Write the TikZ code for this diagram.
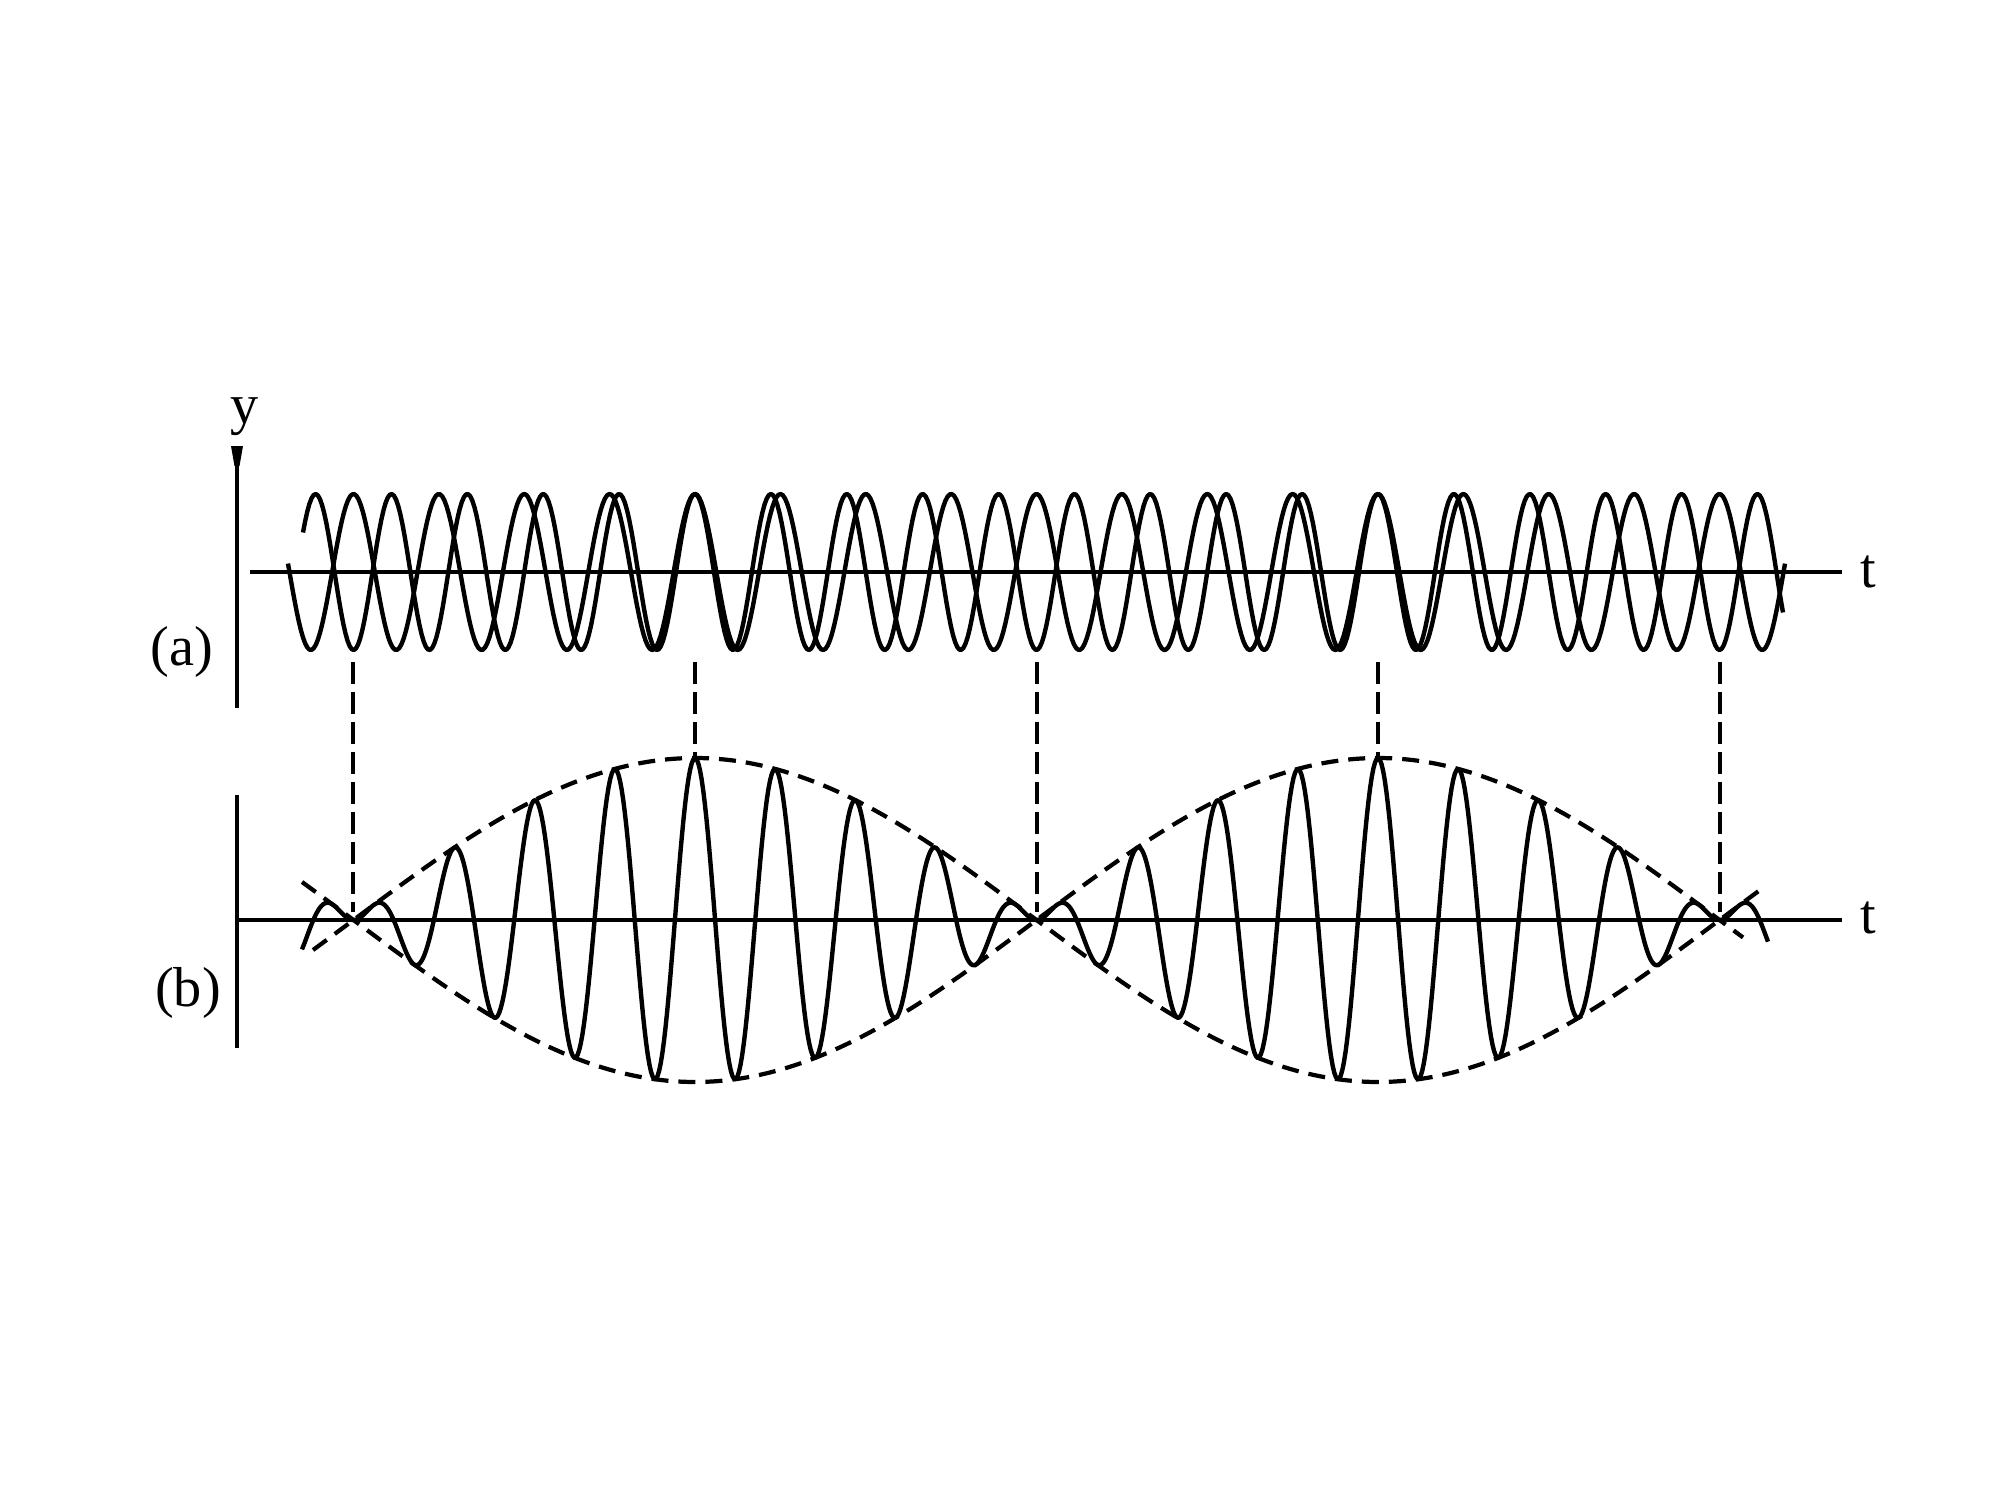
\documentclass[tikz,border=0pt]{standalone}
\usepackage{fontspec}
\setmainfont{Liberation Serif}
\begin{document}
\begin{tikzpicture}[x=0.01cm,y=-0.01cm,
  axis/.style={line width=1.4pt},
  wave/.style={line width=1.25pt, line join=round},
  env/.style={line width=1.2pt, dash pattern=on 0.17cm off 0.1cm},
  guide/.style={line width=1.2pt, dash pattern=on 0.22cm off 0.08cm},
  lab/.style={font=\fontsize{16}{19}\selectfont, inner sep=0pt}]
\useasboundingbox (0,0) rectangle (2000,1500);
% ---------- panel (a) axes
\coordinate (ya0) at (237,708);
\coordinate (ya1) at (237,447);
\draw[axis] (ya0) -- (ya1);
\fill (231,446) -- (243,446) -- (239.5,466) -- (234.5,466) -- cycle;
\coordinate (ta0) at (250,572);
\coordinate (ta1) at (1842,572);
\draw[axis] (ta0) -- (ta1);
\node[lab] (ylab) at (245,417) {y};
\node[lab] (tlaba) at (1868,572) {t};
\node[lab] (alab) at (182,652) {(a)};
% ---------- panel (b) axes
\coordinate (yb0) at (237,1048);
\coordinate (yb1) at (237,795);
\draw[axis] (yb0) -- (yb1);
\coordinate (tb0) at (237,920);
\coordinate (tb1) at (1842,920);
\draw[axis] (tb0) -- (tb1);
\node[lab] (tlabb) at (1868,918) {t};
\node[lab] (blab) at (188,993) {(b)};
% ---------- two component waves
\draw[wave] plot[domain=303:1783, samples=700] (\x,{572-78*cos(4.7438*(\x-695))});
\draw[wave] plot[domain=288:1785, samples=700] (\x,{572-78*cos(4.2167*(\x-695))});
% ---------- beat wave
\draw[wave] plot[domain=302:1768, samples=900] (\x,{920-162*cos(0.26354*(\x-695))*cos(4.48023*(\x-695))});
% ---------- envelope
\draw[env] plot[domain=313:1760, samples=250] (\x,{920-162*cos(0.26354*(\x-695))});
\draw[env] plot[domain=302:1743, samples=250] (\x,{920+162*cos(0.26354*(\x-695))});
% ---------- guide lines
\foreach \i/\gx/\gy in {1/353/912, 2/695/756, 3/1037/912, 4/1378/756, 5/1720/912}{
  \coordinate (gt\i) at (\gx,662);
  \coordinate (gb\i) at (\gx,\gy);
  \draw[guide] (gt\i) -- (gb\i);
}
\end{tikzpicture}
\end{document}
